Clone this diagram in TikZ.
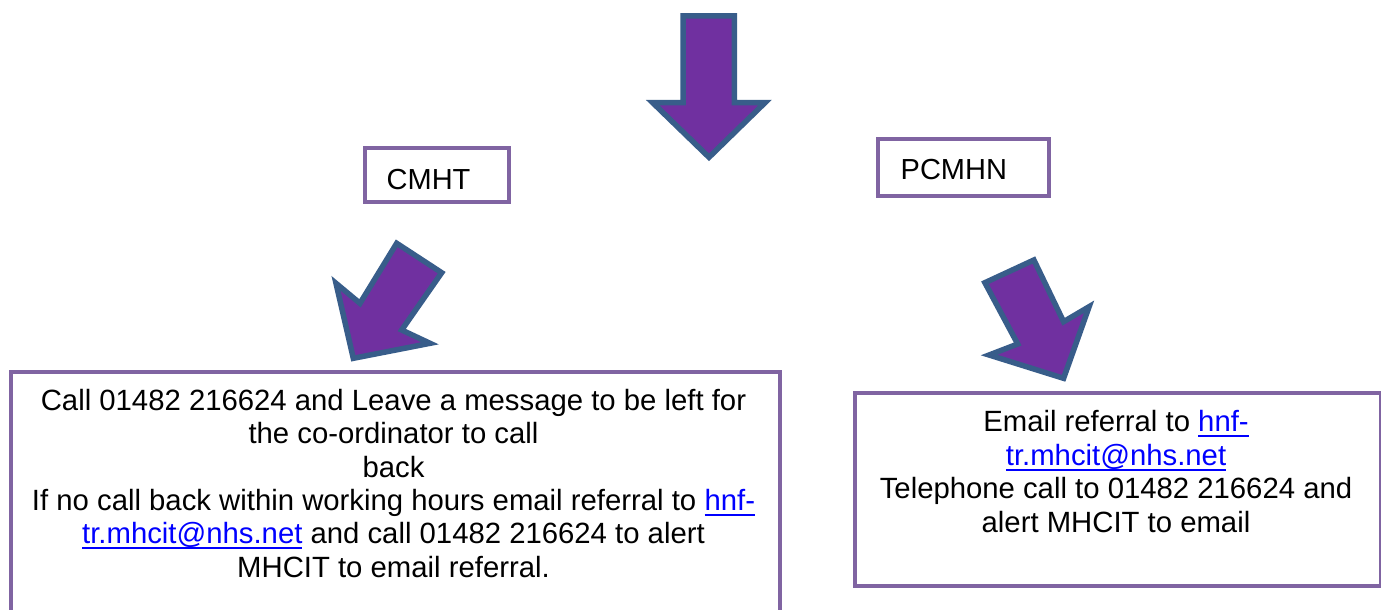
\documentclass[tikz,border=0pt]{standalone}
\usepackage{fontspec}
\setmainfont{Liberation Sans}
\definecolor{boxpurple}{HTML}{8064A2}
\definecolor{arrowfill}{HTML}{7030A0}
\definecolor{arrowedge}{HTML}{385D8A}
\definecolor{linkblue}{HTML}{0000FF}
\newcommand\lnk[1]{\textcolor{linkblue}{\setbox0\hbox{#1}\rlap{\rule[-5.5pt]{\wd0}{2.2pt}}\box0}}
\newcommand\firststrut{\rule{0pt}{22pt}}
\tikzset{
  framebox/.style={draw=boxpurple, line width=4pt},
  blockarrow/.style={fill=arrowfill, draw=arrowedge, line width=5.5pt, line join=miter, miter limit=10},
  bodytext/.style={inner sep=0pt, align=center, font=\fontsize{29.3}{33.4}\selectfont},
  labeltext/.style={inner sep=0pt, font=\fontsize{29}{33.4}\selectfont}
}
\begin{document}
\begin{tikzpicture}[x=1pt, y=-1pt]
\useasboundingbox (0,0) rectangle (1381,610);
\clip (0,0) rectangle (1381,610);

% top down arrow
\draw[blockarrow] (683,16) -- (734.3,16) -- (734.3,102.7) -- (765,102.7) -- (709,157.3) -- (652.7,102.7) -- (683,102.7) -- cycle;

% small boxes
\node[framebox, minimum width=144.3pt, minimum height=53.4pt, inner sep=0pt] (cmhtbox) at (436.8,175) {};
\node[labeltext, anchor=base west] (cmht) at (386.5,189.3) {CMHT};
\node[framebox, minimum width=170.8pt, minimum height=57.3pt, inner sep=0pt] (pcmhnbox) at (963.4,167.4) {};
\node[labeltext, anchor=base west] (pcmhn) at (900.5,179.3) {PCMHN};

% diagonal arrows
\draw[blockarrow] (396.7,243.3) -- (441.7,272.7) -- (401.7,330) -- (430,343.3) -- (353.3,358.3) -- (336,283.3) -- (360,303.3) -- cycle;
\draw[blockarrow] (984.9,282.7) -- (1033.9,260) -- (1063.6,321.7) -- (1089.1,306.7) -- (1063.6,378.3) -- (989.1,355) -- (1017.7,344) -- cycle;

% big boxes
\node[framebox, minimum width=769pt, minimum height=255pt, inner sep=0pt, anchor=north west] (leftbox) at (9,370) {};
\node[bodytext, anchor=north] (lefttext) at (393.5,388) {\firststrut Call 01482 216624 and Leave a message to be left for\\
the co-ordinator to call\\
back\\
If no call back within working hours email referral to \lnk{hnf-}\\
\lnk{tr.mhcit@nhs.net} and call 01482 216624 to alert\\
MHCIT to email referral.};

\node[framebox, minimum width=526pt, minimum height=193.3pt, inner sep=0pt, anchor=north west] (rightbox) at (853,390.7) {};
\node[bodytext, anchor=north] (righttext) at (1116,409.7) {\firststrut Email referral to \lnk{hnf-}\\
\lnk{tr.mhcit@nhs.net}\\
Telephone call to 01482 216624 and\\
alert MHCIT to email};
\end{tikzpicture}
\end{document}
